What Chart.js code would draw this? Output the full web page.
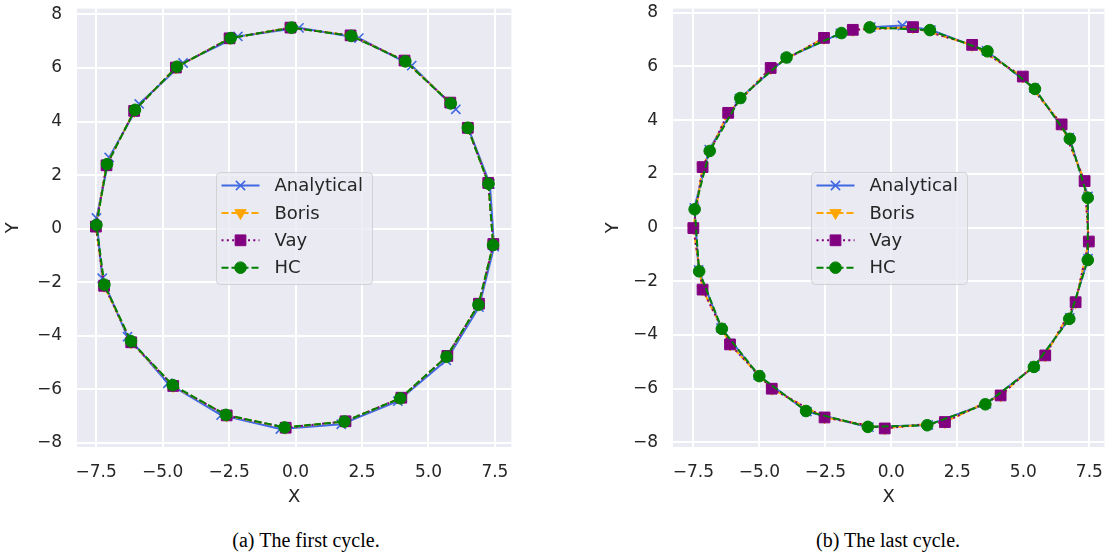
<!DOCTYPE html>
<html>
<head>
<meta charset="utf-8">
<script src="https://cdn.jsdelivr.net/npm/chart.js@4.4.1/dist/chart.umd.min.js"></script>
<style>
  body { margin: 0; background: #fff; width: 1113px; height: 556px; overflow: hidden; position: relative; }
  canvas { position: absolute; top: 0; }
  #firstChart { left: 0; }
  #lastChart { left: 600px; }
  .cap { position: absolute; top: 528px; font-family: 'Liberation Serif', serif; font-size: 20px; line-height: 24px; color: #000; transform: translateX(-50%); white-space: nowrap; }
</style>
</head>
<body>
<canvas id="firstChart" width="520" height="510"></canvas>
<canvas id="lastChart" width="513" height="510"></canvas>
<div class="cap" style="left:306px">(a) The first cycle.</div>
<div class="cap" style="left:888px">(b) The last cycle.</div>
<script>
// ticks
const xTicks = [-7.5, -5, -2.5, 0, 2.5, 5, 7.5];
const yTicks = [-8, -6, -4, -2, 0, 2, 4, 6, 8];
const seriesNames = ['Analytical', 'Boris', 'Vay', 'HC'];

// first cycle
const anaFirstX = [6.50, 7.31, 7.47, 6.90, 5.67, 3.85, 1.72, -0.57, -2.80, -4.80, -6.32, -7.27, -7.49, -7.01, -5.88, -4.23, -2.17, 0.13, 2.38, 4.37, 6.03];
const anaFirstY = [3.75, 1.67, -0.67, -2.93, -4.91, -6.44, -7.30, -7.48, -6.96, -5.77, -4.03, -1.85, 0.40, 2.66, 4.66, 6.19, 7.18, 7.50, 7.12, 6.09, 4.46];
const borisFirstX = [6.48, 7.25, 7.44, 6.90, 5.71, 3.98, 1.88, -0.37, -2.59, -4.60, -6.18, -7.20, -7.51, -7.11, -6.07, -4.50, -2.48, -0.19, 2.07, 4.10, 5.82];
const borisFirstY = [3.77, 1.71, -0.57, -2.80, -4.75, -6.31, -7.19, -7.43, -6.97, -5.87, -4.24, -2.13, 0.08, 2.37, 4.40, 6.02, 7.11, 7.51, 7.22, 6.28, 4.71];
const vayFirstX = [6.48, 7.25, 7.44, 6.90, 5.71, 3.98, 1.88, -0.37, -2.59, -4.60, -6.18, -7.20, -7.51, -7.11, -6.07, -4.50, -2.48, -0.19, 2.07, 4.10, 5.82];
const vayFirstY = [3.77, 1.71, -0.57, -2.80, -4.75, -6.31, -7.19, -7.43, -6.97, -5.87, -4.24, -2.13, 0.08, 2.37, 4.40, 6.02, 7.11, 7.51, 7.22, 6.28, 4.71];
const hcFirstX = [6.48, 7.26, 7.43, 6.88, 5.68, 3.94, 1.84, -0.41, -2.62, -4.62, -6.19, -7.19, -7.49, -7.09, -6.04, -4.46, -2.44, -0.15, 2.10, 4.13, 5.84];
const hcFirstY = [3.77, 1.68, -0.61, -2.84, -4.78, -6.33, -7.20, -7.42, -6.95, -5.84, -4.20, -2.09, 0.14, 2.41, 4.44, 6.05, 7.12, 7.51, 7.20, 6.25, 4.68];

// last cycle
const anaLastX = [-0.78, 0.42, 1.50, 3.60, 5.40, 6.74, 7.45, 7.45, 6.76, 5.43, 3.60, 1.40, -0.85, -3.20, -5.04, -6.45, -7.30, -7.46, -6.90, -5.75, -4.00, -1.93];
const anaLastY = [7.46, 7.52, 7.35, 6.58, 5.20, 3.35, 1.16, -1.16, -3.36, -5.16, -6.56, -7.35, -7.43, -6.85, -5.50, -3.74, -1.58, 0.73, 2.90, 4.80, 6.30, 7.23];
const borisLastX = [-1.46, 0.82, 3.06, 4.98, 6.45, 7.32, 7.48, 6.98, 5.83, 4.14, 2.03, -0.25, -2.53, -4.53, -6.11, -7.15, -7.50, -7.15, -6.18, -4.57, -2.55];
const borisLastY = [7.36, 7.46, 6.80, 5.62, 3.84, 1.73, -0.52, -2.78, -4.76, -6.25, -7.24, -7.48, -7.07, -6.00, -4.35, -2.31, -0.02, 2.25, 4.27, 5.94, 7.06];
const vayLastX = [-1.46, 0.82, 3.06, 4.98, 6.45, 7.32, 7.48, 6.98, 5.83, 4.14, 2.03, -0.25, -2.53, -4.53, -6.11, -7.15, -7.50, -7.15, -6.18, -4.57, -2.55];
const vayLastY = [7.36, 7.46, 6.80, 5.62, 3.84, 1.73, -0.52, -2.78, -4.76, -6.25, -7.24, -7.48, -7.07, -6.00, -4.35, -2.31, -0.02, 2.25, 4.27, 5.94, 7.06];
const hcLastX = [-0.82, 1.46, 3.64, 5.44, 6.76, 7.44, 7.44, 6.74, 5.40, 3.56, 1.36, -0.89, -3.23, -5.00, -6.42, -7.28, -7.45, -6.88, -5.72, -3.97, -1.89];
const hcLastY = [7.45, 7.35, 6.56, 5.16, 3.30, 1.11, -1.21, -3.40, -5.19, -6.58, -7.36, -7.42, -6.83, -5.53, -3.77, -1.63, 0.68, 2.85, 4.82, 6.33, 7.24];

const styles = {
  Analytical: { color: '#4169E1', dash: [], marker: 'crossRot', radius: 6.5, rotation: 0, order: 4 },
  Boris: { color: '#FFA500', dash: [7, 3], marker: 'triangle', radius: 6.5, rotation: 180, order: 3 },
  Vay: { color: '#800080', dash: [2, 3.3], marker: 'rect', radius: 7.6, rotation: 0, order: 2 },
  HC: { color: '#008000', dash: [7, 3], marker: 'circle', radius: 5.8, rotation: 0, order: 1 }
};

const textColor = '#262626';
Chart.defaults.font.family = "'DejaVu Sans', sans-serif";
Chart.defaults.color = textColor;

function makeDatasets(xs, ys) {
  return seriesNames.map((name, i) => {
    const s = styles[name];
    return {
      label: name,
      data: xs[i].map((x, j) => ({ x, y: ys[i][j] })),
      showLine: true,
      borderColor: s.color,
      backgroundColor: s.color,
      borderWidth: 2,
      borderDash: s.dash,
      pointStyle: s.marker,
      pointRadius: s.radius,
      pointRotation: s.rotation,
      pointBackgroundColor: s.color,
      pointBorderColor: s.color,
      pointBorderWidth: name === 'Analytical' ? 1.6 : 1,
      order: s.order
    };
  });
}

// grey plot background
const plotBg = {
  id: 'plotBg',
  beforeDraw(chart) {
    const { ctx, chartArea: a } = chart;
    ctx.save();
    ctx.fillStyle = '#EAEAF2';
    ctx.fillRect(a.left, a.top, a.right - a.left, a.bottom - a.top);
    ctx.restore();
  }
};

// legend box in the middle of the plot
const boxLegend = {
  id: 'boxLegend',
  afterDatasetsDraw(chart) {
    const { ctx, chartArea: a } = chart;
    const w = 156, h = 112, r = 4;
    const left = Math.round((a.left + a.right - w) / 2) + 0.5;
    const top = Math.round((a.top + a.bottom - h) / 2) + 0.5;
    ctx.save();
    ctx.beginPath();
    ctx.moveTo(left + r, top);
    ctx.arcTo(left + w, top, left + w, top + h, r);
    ctx.arcTo(left + w, top + h, left, top + h, r);
    ctx.arcTo(left, top + h, left, top, r);
    ctx.arcTo(left, top, left + w, top, r);
    ctx.closePath();
    ctx.fillStyle = 'rgba(234,234,242,0.8)';
    ctx.fill();
    ctx.strokeStyle = 'rgba(204,204,204,0.8)';
    ctx.lineWidth = 1;
    ctx.stroke();

    chart.data.datasets.forEach((ds, i) => {
      const y = top + 13 + i * 27.4;
      ctx.setLineDash(ds.borderDash);
      ctx.strokeStyle = ds.borderColor;
      ctx.lineWidth = 2;
      ctx.beginPath();
      ctx.moveTo(left + 5, y);
      ctx.lineTo(left + 43, y);
      ctx.stroke();
      ctx.setLineDash([]);
      ctx.fillStyle = ds.pointBackgroundColor;
      ctx.strokeStyle = ds.pointBorderColor;
      ctx.lineWidth = ds.pointBorderWidth;
      Chart.helpers.drawPoint(ctx, {
        pointStyle: ds.pointStyle, radius: ds.pointRadius,
        rotation: ds.pointRotation, borderWidth: ds.pointBorderWidth
      }, left + 24, y);
      ctx.fillStyle = textColor;
      ctx.font = "18px 'DejaVu Sans', sans-serif";
      ctx.textBaseline = 'middle';
      ctx.fillText(ds.label, left + 58, y + 1);
    });
    ctx.restore();
  }
};

function makeChart(id, datasets, lim, yAxisWidth, padTop, padRight) {
  return new Chart(document.getElementById(id), {
    type: 'scatter',
    data: { datasets },
    options: {
      responsive: false,
      animation: false,
      layout: { padding: { top: padTop, right: padRight, left: 0, bottom: 0 } },
      plugins: { legend: { display: false }, tooltip: { enabled: false } },
      scales: {
        x: {
          type: 'linear', min: lim.xMin, max: lim.xMax,
          afterBuildTicks: s => { s.ticks = xTicks.map(v => ({ value: v })); },
          // fixed axis box, no extra room for edge labels
          afterFit: s => { s.height = 63; s.paddingLeft = 0; s.paddingRight = 0; },
          ticks: { autoSkip: false, maxRotation: 0, padding: 15, font: { size: 17 }, color: textColor,
            callback: v => v.toFixed(1).replace('-', '\u2212') },
          grid: { color: '#ffffff', lineWidth: 2, drawTicks: false },
          border: { display: false },
          title: { display: true, text: 'X', font: { size: 18 }, color: textColor, padding: { top: 0, bottom: 2 } }
        },
        y: {
          type: 'linear', min: lim.yMin, max: lim.yMax,
          afterBuildTicks: s => { s.ticks = yTicks.map(v => ({ value: v })); },
          afterFit: s => { s.width = yAxisWidth; s.paddingTop = 0; s.paddingBottom = 0; },
          ticks: { autoSkip: false, padding: 15, font: { size: 17 }, color: textColor,
            callback: v => String(v).replace('-', '\u2212') },
          grid: { color: '#ffffff', lineWidth: 2, drawTicks: false },
          border: { display: false },
          title: { display: true, text: 'Y', font: { size: 18 }, color: textColor, padding: { top: 3, bottom: 0 } }
        }
      }
    },
    plugins: [plotBg, boxLegend]
  });
}

makeChart('firstChart',
  makeDatasets([anaFirstX, borisFirstX, vayFirstX, hcFirstX], [anaFirstY, borisFirstY, vayFirstY, hcFirstY]),
  { xMin: -8.22, xMax: 8.12, yMin: -8.15, yMax: 8.22 }, 77, 7, 3);

makeChart('lastChart',
  makeDatasets([anaLastX, borisLastX, vayLastX, hcLastX], [anaLastY, borisLastY, vayLastY, hcLastY]),
  { xMin: -8.27, xMax: 8.07, yMin: -8.17, yMax: 8.15 }, 73, 6, 0);
</script>
</body>
</html>
